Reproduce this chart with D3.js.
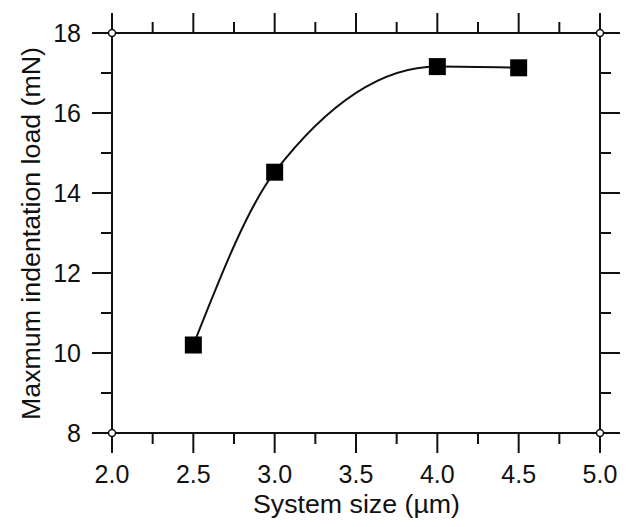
<!DOCTYPE html>
<html>
<head>
<meta charset="utf-8">
<script src="https://cdn.jsdelivr.net/npm/d3@7"></script>
<style>
  body { margin: 0; background: #fff; }
  text { font-family: "Liberation Sans", Arial, sans-serif; fill: #111; }
</style>
</head>
<body>
<svg id="chart"></svg>
<script>
const systemSize = [2.5, 3.0, 4.0, 4.5];
const maxLoad = [10.2, 14.52, 17.16, 17.13];
const xTicks = [2.0, 2.5, 3.0, 3.5, 4.0, 4.5, 5.0];
const yTicks = [8, 10, 12, 14, 16, 18];
const xTitle = 'System size (\u00b5m)';
const yTitle = 'Maxmum indentation load (mN)';

const svg = d3.select('#chart').attr('width', 637).attr('height', 527);

const x = d3.scaleLinear().domain([2, 5]).range([112, 600]);
const y = d3.scaleLinear().domain([8, 18]).range([433, 33]);

const xMinor = d3.range(2.25, 5, 0.5);
const yMinor = d3.range(9, 18, 2);

const axisG = svg.append('g').attr('stroke', '#111').attr('stroke-width', 2);

// frame
axisG.append('rect')
  .attr('x', x(2)).attr('y', y(18))
  .attr('width', x(5) - x(2)).attr('height', y(8) - y(18))
  .attr('fill', 'none');

// bottom and top ticks (outward)
const xTickData = xTicks.map(v => ({ v, len: 20 })).concat(xMinor.map(v => ({ v, len: 11 })));
axisG.selectAll('line.xb').data(xTickData).enter().append('line')
  .attr('x1', d => x(d.v)).attr('x2', d => x(d.v))
  .attr('y1', y(8)).attr('y2', d => y(8) + d.len);
axisG.selectAll('line.xt').data(xTickData).enter().append('line')
  .attr('x1', d => x(d.v)).attr('x2', d => x(d.v))
  .attr('y1', y(18)).attr('y2', d => y(18) - d.len);

// left and right ticks (outward)
const yTickData = yTicks.map(v => ({ v, len: 20 })).concat(yMinor.map(v => ({ v, len: 11 })));
axisG.selectAll('line.yl').data(yTickData).enter().append('line')
  .attr('y1', d => y(d.v)).attr('y2', d => y(d.v))
  .attr('x1', x(2)).attr('x2', d => x(2) - d.len);
axisG.selectAll('line.yr').data(yTickData).enter().append('line')
  .attr('y1', d => y(d.v)).attr('y2', d => y(d.v))
  .attr('x1', x(5)).attr('x2', d => x(5) + d.len);

// corner circles
const corners = [[2, 8], [2, 18], [5, 8], [5, 18]];
axisG.selectAll('circle').data(corners).enter().append('circle')
  .attr('cx', d => x(d[0])).attr('cy', d => y(d[1]))
  .attr('r', 3.5).attr('fill', '#fff').attr('stroke-width', 1.5);

// tick labels
svg.append('g').selectAll('text').data(xTicks).enter().append('text')
  .attr('x', d => x(d)).attr('y', 483)
  .attr('text-anchor', 'middle').attr('font-size', 25)
  .text(d => d.toFixed(1));
svg.append('g').selectAll('text').data(yTicks).enter().append('text')
  .attr('x', 81).attr('y', d => y(d) + 9)
  .attr('text-anchor', 'end').attr('font-size', 25)
  .text(d => d);

// axis titles
svg.append('text')
  .attr('x', 253).attr('y', 513)
  .attr('font-size', 25)
  .attr('textLength', 207).attr('lengthAdjust', 'spacingAndGlyphs')
  .text(xTitle);
svg.append('text')
  .attr('transform', 'translate(40,420) rotate(-90)')
  .attr('font-size', 26)
  .attr('textLength', 373).attr('lengthAdjust', 'spacingAndGlyphs')
  .text(yTitle);

// curve
const pts = systemSize.map((s, i) => [s, maxLoad[i]]);
const line = d3.line().x(d => x(d[0])).y(d => y(d[1])).curve(d3.curveMonotoneX);
svg.append('path').datum(pts)
  .attr('fill', 'none').attr('stroke', '#111').attr('stroke-width', 2)
  .attr('d', line);

// markers
svg.append('g').selectAll('rect').data(pts).enter().append('rect')
  .attr('x', d => x(d[0]) - 8.5).attr('y', d => y(d[1]) - 8.5)
  .attr('width', 17).attr('height', 17).attr('fill', '#000');
</script>
</body>
</html>
